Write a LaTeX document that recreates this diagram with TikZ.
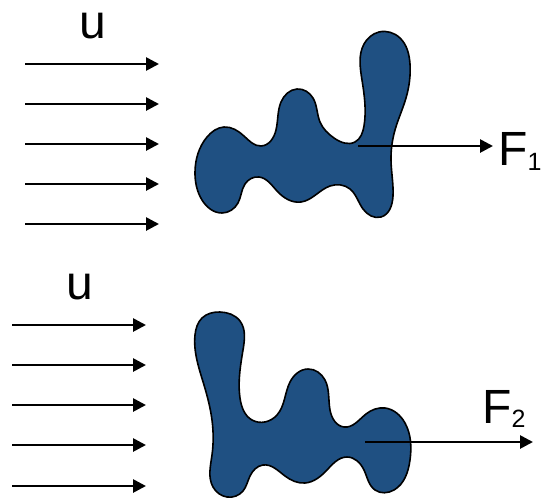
\documentclass[tikz,border=0pt]{standalone}
\usepackage{fontspec}
\setmainfont{Liberation Sans}
\usetikzlibrary{arrows.meta,hobby}
\definecolor{blobblue}{RGB}{31,80,130}
\begin{document}
\begin{tikzpicture}[x=1pt,y=-1pt,
  flow/.style={line width=2.7pt,-{Triangle[length=13pt,width=13pt]}},
  blob/.style={fill=blobblue,draw=black,line width=1.6pt,use Hobby shortcut,closed=true},
  biglabel/.style={inner sep=0pt,font=\fontsize{48}{48}\selectfont},
  forcelabel/.style={inner sep=0pt,anchor=base west,font=\fontsize{48}{48}\selectfont}]
\useasboundingbox (0,0) rectangle (541,498);

% upper body
\draw[blob] (195,172) .. (207,137) .. (224,127) .. (244,136) .. (261,146)
  .. (276,130) .. (281,102) .. (297,89) .. (313,98) .. (320,122) .. (334,138)
  .. (355,142) .. (364,126) .. (362,80) .. (364,44) .. (379,32) .. (400,38)
  .. (410,64) .. (406,98) .. (395,130) .. (391,160) .. (393,196) .. (381,217)
  .. (363,209) .. (350,189) .. (330,186) .. (301,202) .. (277,191) .. (259,177)
  .. (245,184) .. (238,203) .. (222,213) .. (202,200);

% lower body
\draw[blob] (195,335) .. (202,318) .. (220,312) .. (240,321) .. (243,350)
  .. (240,398) .. (252,420) .. (277,415) .. (290,382) .. (308,369) .. (325,380)
  .. (330,410) .. (344,427) .. (366,414) .. (385,408) .. (405,423) .. (410,460)
  .. (394,490) .. (375,490) .. (364,470) .. (347,457) .. (327,470) .. (305,483)
  .. (285,476) .. (263,465) .. (250,476) .. (243,491) .. (227,497) .. (213,487)
  .. (212,455) .. (212,420) .. (204,385);

% upstream velocity, upper case
\node[biglabel,anchor=base] (u1) at (93,38) {u};
\foreach \i/\y in {1/64,2/104,3/144,4/184,5/224}{
  \coordinate (ua\i) at (25,\y);
  \coordinate (ub\i) at (159,\y);
  \draw[flow] (ua\i) -- (ub\i);
}

% upstream velocity, lower case
\node[biglabel,anchor=base] (u2) at (80,299) {u};
\foreach \i/\y in {1/325,2/365,3/405,4/445,5/486}{
  \coordinate (va\i) at (12,\y);
  \coordinate (vb\i) at (146,\y);
  \draw[flow] (va\i) -- (vb\i);
}

% resultant forces
\node[forcelabel] (F1) at (498,165) {F\raisebox{-5pt}{\fontsize{25}{25}\selectfont 1}};
\coordinate (f1s) at (358,146);
\coordinate (f1e) at (493,146);
\draw[flow] (f1s) -- (f1e);

\node[forcelabel] (F2) at (482,423) {F\raisebox{-4pt}{\fontsize{25}{25}\selectfont 2}};
\coordinate (f2s) at (365,442);
\coordinate (f2e) at (533,442);
\draw[flow] (f2s) -- (f2e);
\end{tikzpicture}
\end{document}
